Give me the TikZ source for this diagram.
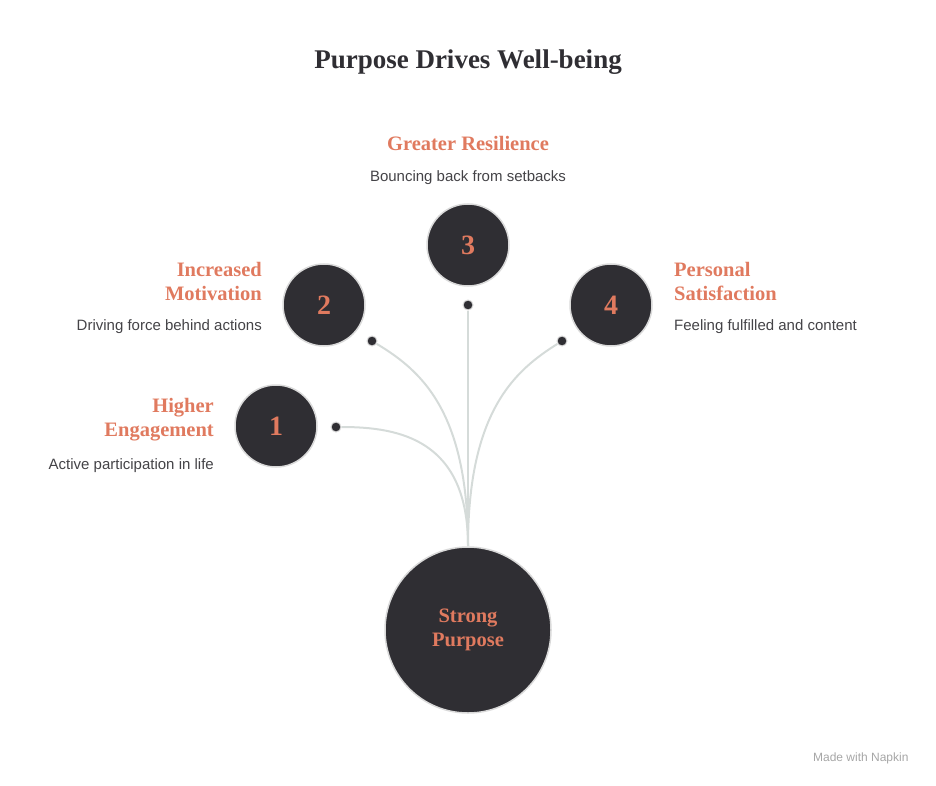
\documentclass[tikz,border=0pt]{standalone}
\usepackage{fontspec}
\setmainfont{Liberation Serif}
\setsansfont{Liberation Sans}
\definecolor{dark}{HTML}{2F2E33}
\definecolor{accent}{HTML}{E07A5F}
\definecolor{wire}{HTML}{D5DBD9}
\definecolor{rim}{HTML}{DADADA}
\tikzset{
  hub/.style={circle, fill=dark, draw=rim, line width=1.5pt, minimum size=166pt, inner sep=0pt},
  stage/.style={circle, fill=dark, draw=rim, line width=1.5pt, minimum size=82pt, inner sep=0pt,
    text=accent, font=\fontsize{28}{28}\selectfont\bfseries},
  dot/.style={circle, fill=dark, draw=rim, line width=1pt, minimum size=10pt, inner sep=0pt},
  head/.style={text=accent, font=\fontsize{20.5}{24}\selectfont\bfseries, inner sep=0pt},
  note/.style={text=dark!90, font=\sffamily\fontsize{15}{16}\selectfont, inner sep=0pt},
  link/.style={wire, line width=2pt}
}
\begin{document}
\begin{tikzpicture}[x=1pt,y=-1pt]
  \useasboundingbox (0,0) rectangle (936,786);
  \node[text=dark, font=\fontsize{27}{28}\selectfont\bfseries] (title) at (468,62) {Purpose Drives Well-being};
  % connectors
  \coordinate (root) at (468,546);
  \node[dot] (d1) at (336,427) {};
  \node[dot] (d2) at (372,341) {};
  \node[dot] (d3) at (468,305) {};
  \node[dot] (d4) at (562,341) {};
  \draw[link] (root) .. controls (468,440) and (400,427) .. (d1);
  \draw[link] (root) .. controls (468,410) and (420,370) .. (d2);
  \draw[link] (root) -- (d3);
  \draw[link] (root) .. controls (468,410) and (516,370) .. (d4);
  \node[hub, text=accent, align=center, font=\fontsize{20.5}{24}\selectfont\bfseries] (core) at (468,630) {Strong\\Purpose};
  % stages
  \node[stage] (s1) at (276,426) {1};
  \node[stage] (s2) at (324,305) {2};
  \node[stage] (s3) at (468,245) {3};
  \node[stage] (s4) at (611,305) {4};
  \node[head, anchor=east, align=right] (h1) at (214,420) {Higher\\Engagement};
  \node[note, anchor=east] (n1) at (214,466) {Active participation in life};
  \node[head, anchor=east, align=right] (h2) at (262,281) {Increased\\Motivation};
  \node[note, anchor=east] (n2) at (262,327) {Driving force behind actions};
  \node[head] (h3) at (468,143) {Greater Resilience};
  \node[note] (n3) at (468,178) {Bouncing back from setbacks};
  \node[head, anchor=west, align=left] (h4) at (674,281) {Personal\\Satisfaction};
  \node[note, anchor=west] (n4) at (674,327) {Feeling fulfilled and content};
  \node[text=gray!70, font=\sffamily\fontsize{12}{12}\selectfont, anchor=east] (mark) at (912,758) {Made with Napkin};
\end{tikzpicture}
\end{document}
